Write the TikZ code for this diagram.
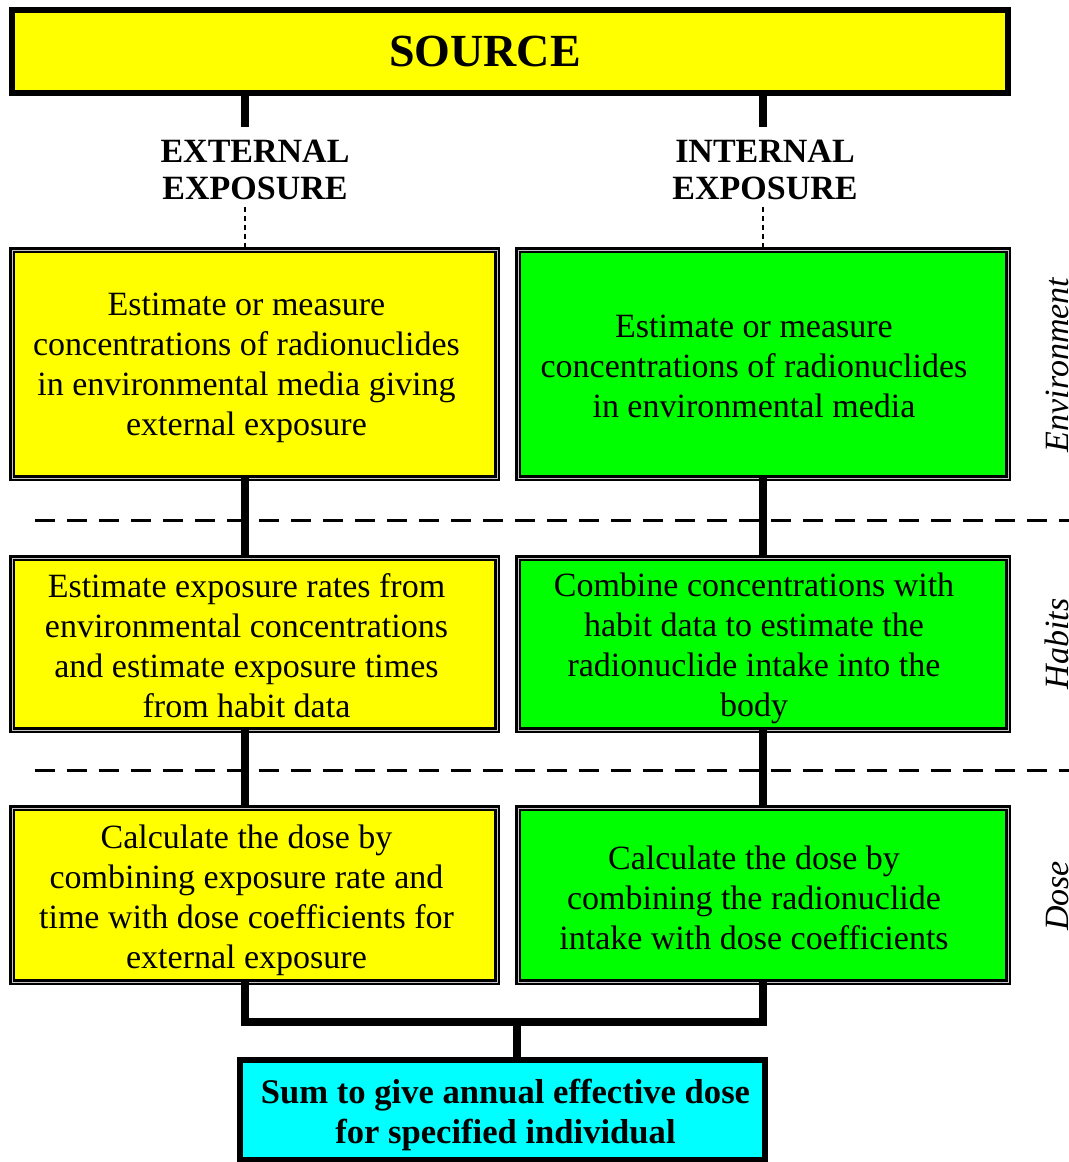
\documentclass[tikz,border=0pt]{standalone}
\usepackage{fontspec}
\setmainfont{Liberation Serif}
\definecolor{yel}{RGB}{255,255,0}
\definecolor{grn}{RGB}{0,255,0}
\definecolor{cyn}{RGB}{0,255,255}
\begin{document}
\begin{tikzpicture}[x=0.5pt,y=-0.5pt,
  base/.style={inner sep=0pt, outer sep=0pt, align=center,
    font=\fontsize{17}{20}\selectfont},
  solidbox/.style={base, draw=black, line width=2.6pt},
  dblbox/.style={base, draw=black, line width=1.15pt, double=gray!45, double distance=0.5pt},
  txt/.style={align=center, inner sep=0pt, font=\fontsize{17}{20}\selectfont},
  conn/.style={line width=3.6pt, black},
  dotconn/.style={line width=0.7pt, black, dash pattern=on 2.5pt off 2pt},
  sep/.style={line width=1.5pt, black, dash pattern=on 10pt off 6pt},
  side/.style={rotate=90, anchor=base, font=\fontsize{17}{20}\selectfont\itshape},
  head/.style={align=center, font=\fontsize{17}{18.5}\selectfont\bfseries}]
\useasboundingbox (0,0) rectangle (1069,1162);
\coordinate (xl) at (245,0);
\coordinate (xr) at (763,0);
\coordinate (jn) at (517,1022);

\node[solidbox, fill=yel, minimum width=498pt, minimum height=41.5pt] (src) at (510,51.5) {};
\node[txt, font=\fontsize{23}{26}\selectfont\bfseries] (srct) at ([shift={(-25,0)}]src.center) {SOURCE};

\node[head] (extl) at (255,170) {EXTERNAL\\EXPOSURE};
\node[head] (intl) at (765,170) {INTERNAL\\EXPOSURE};

\node[dblbox, fill=yel, minimum width=242.5pt, minimum height=114pt] (e1) at (254.5,364) {};
\node[txt] (e1t) at ([shift={(-8,4)}]e1.center)
  {Estimate or measure\\concentrations of radionuclides\\in environmental media giving\\external exposure};
\node[dblbox, fill=grn, minimum width=245pt, minimum height=114pt] (i1) at (763,364) {};
\node[txt] (i1t) at ([shift={(-9,2)}]i1.center)
  {Estimate or measure\\concentrations of radionuclides\\in environmental media};
\node[dblbox, fill=yel, minimum width=242.5pt, minimum height=86pt] (e2) at (254.5,644) {};
\node[txt] (e2t) at ([shift={(-8,2)}]e2.center)
  {Estimate exposure rates from\\environmental concentrations\\and estimate exposure times\\from habit data};
\node[dblbox, fill=grn, minimum width=245pt, minimum height=86pt] (i2) at (763,644) {};
\node[txt] (i2t) at ([shift={(-9,4)}]i2.center)
  {Combine concentrations with\\habit data to estimate the\\radionuclide intake into the\\body};
\node[dblbox, fill=yel, minimum width=242.5pt, minimum height=87pt] (e3) at (254.5,895) {};
\node[txt] (e3t) at ([shift={(-8,5)}]e3.center)
  {Calculate the dose by\\combining exposure rate and\\time with dose coefficients for\\external exposure};
\node[dblbox, fill=grn, minimum width=245pt, minimum height=87pt] (i3) at (763,895) {};
\node[txt] (i3t) at ([shift={(-9,3)}]i3.center)
  {Calculate the dose by\\combining the radionuclide\\intake with dose coefficients};
\node[solidbox, fill=cyn, minimum width=262.5pt, minimum height=50pt] (sum) at (502.5,1110) {};
\node[txt, font=\fontsize{17.3}{20}\selectfont\bfseries] (sumt) at ([shift={(3,5)}]sum.center)
  {Sum to give annual effective dose\\for specified individual};

\node[side] (env) at (1068,365) {Environment};
\node[side] (hab) at (1068,644) {Habits};
\node[side] (dos) at (1068,896) {Dose};

% connectors
\draw[conn] (src.south -| xl) -- ([yshift=3pt]extl.north -| xl);
\draw[conn] (src.south -| xr) -- ([yshift=3pt]intl.north -| xr);
\draw[dotconn] (extl.south -| xl) -- (e1.north -| xl);
\draw[dotconn] (intl.south -| xr) -- (i1.north -| xr);
\draw[conn] (e1.south -| xl) -- (e2.north -| xl);
\draw[conn] (i1.south -| xr) -- (i2.north -| xr);
\draw[conn] (e2.south -| xl) -- (e3.north -| xl);
\draw[conn] (i2.south -| xr) -- (i3.north -| xr);
\draw[conn] (e3.south -| xl) |- (jn) -| (i3.south -| xr);
\draw[conn] (jn) -- (sum.north -| jn);

% separators
\coordinate (d1a) at (35,520);
\coordinate (d1b) at (1069,520);
\coordinate (d2a) at (35,770);
\coordinate (d2b) at (1069,770);
\draw[sep] (d1a) -- (d1b);
\draw[sep] (d2a) -- (d2b);
\end{tikzpicture}
\end{document}
